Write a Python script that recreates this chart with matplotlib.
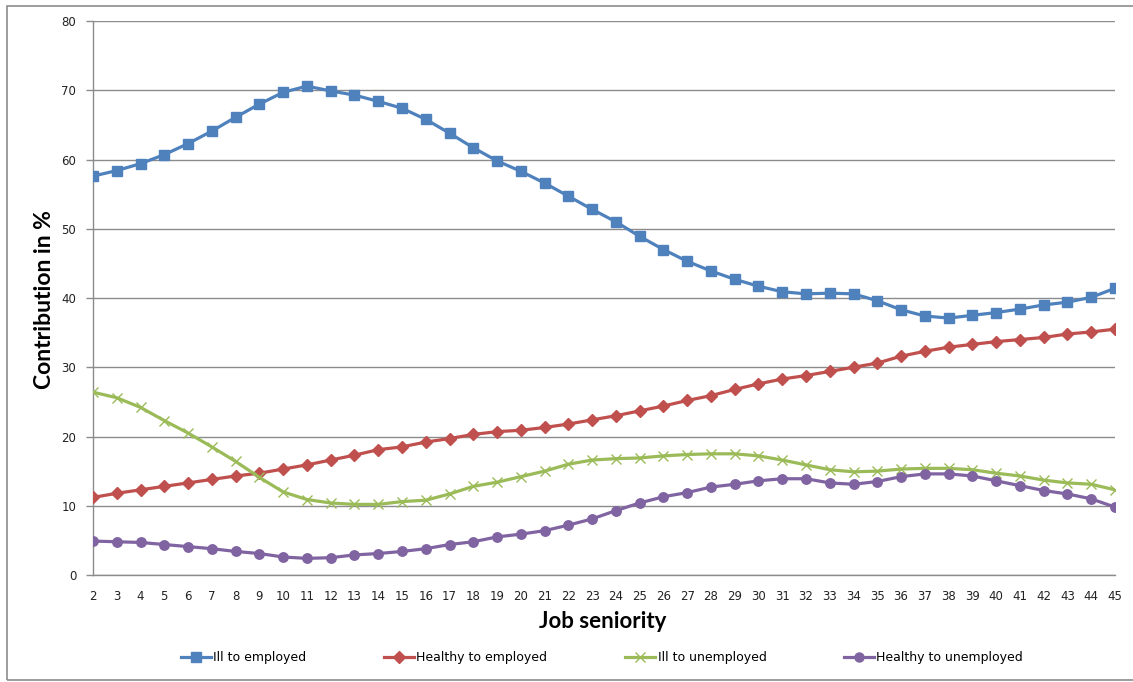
import matplotlib
matplotlib.use("Agg")
import matplotlib.pyplot as plt
from matplotlib.patches import Rectangle

# Job seniority (years)
seniority = list(range(2, 46))

ill_to_employed = [
    57.6, 58.4, 59.4, 60.7, 62.3, 64.1, 66.1, 68.0, 69.7, 70.6,
    69.9, 69.3, 68.4, 67.4, 65.8, 63.8, 61.7, 59.8, 58.3, 56.6,
    54.7, 52.8, 51.0, 48.9, 47.0, 45.3, 43.9, 42.7, 41.7, 40.9,
    40.6, 40.7, 40.6, 39.6, 38.3, 37.4, 37.1, 37.5, 37.9, 38.4,
    39.0, 39.4, 40.1, 41.4,
]
healthy_to_employed = [
    11.2, 11.8, 12.3, 12.8, 13.3, 13.8, 14.3, 14.7, 15.3, 15.9,
    16.6, 17.3, 18.1, 18.5, 19.2, 19.7, 20.3, 20.7, 20.9, 21.3,
    21.8, 22.4, 23.0, 23.7, 24.4, 25.2, 25.9, 26.8, 27.6, 28.3,
    28.8, 29.4, 30.0, 30.6, 31.6, 32.3, 32.9, 33.3, 33.7, 34.0,
    34.3, 34.8, 35.1, 35.5,
]
ill_to_unemployed = [
    26.4, 25.6, 24.2, 22.3, 20.5, 18.5, 16.4, 14.1, 12.0, 10.9,
    10.4, 10.2, 10.2, 10.6, 10.8, 11.7, 12.8, 13.4, 14.2, 15.0,
    16.0, 16.6, 16.8, 16.9, 17.2, 17.4, 17.5, 17.5, 17.2, 16.6,
    15.9, 15.2, 14.9, 15.0, 15.3, 15.4, 15.4, 15.2, 14.7, 14.3,
    13.7, 13.3, 13.1, 12.3,
]
healthy_to_unemployed = [
    4.9, 4.8, 4.7, 4.4, 4.1, 3.8, 3.4, 3.1, 2.6, 2.4,
    2.5, 2.9, 3.1, 3.4, 3.8, 4.4, 4.8, 5.5, 5.9, 6.4,
    7.2, 8.1, 9.3, 10.4, 11.3, 11.9, 12.7, 13.1, 13.6, 13.9,
    13.9, 13.3, 13.1, 13.5, 14.2, 14.6, 14.6, 14.3, 13.6, 12.9,
    12.2, 11.7, 11.0, 9.8,
]

series_labels = ["Ill to employed", "Healthy to employed",
                 "Ill to unemployed", "Healthy to unemployed"]

W, H = 1133, 682
fig = plt.figure(figsize=(W / 100, H / 100), dpi=100)
fig.patch.set_facecolor("white")

# plot area in pixel coordinates
x0, x1, y_top, y_bot = 93, 1115, 21, 575
ax = fig.add_axes([x0 / W, 1 - y_bot / H, (x1 - x0) / W, (y_bot - y_top) / H])

grid_c = "#8c8c8c"
lw = 2.3
ax.plot(seniority, ill_to_employed, color="#4F81BD", lw=lw, marker="s",
        ms=6.5, label=series_labels[0], zorder=4)
ax.plot(seniority, healthy_to_employed, color="#C0504D", lw=lw, marker="D",
        ms=6.5, label=series_labels[1], zorder=4)
ax.plot(seniority, ill_to_unemployed, color="#9BBB59", lw=lw, marker="x",
        ms=7, mew=1.0, label=series_labels[2], zorder=4)
ax.plot(seniority, healthy_to_unemployed, color="#8064A2", lw=lw, marker="o",
        ms=6.8, label=series_labels[3], zorder=4)

ax.set_xlim(2, 45)
ax.set_ylim(0, 80)
ax.set_yticks(range(0, 81, 10))
ax.set_xticks(seniority)
ax.set_xticks(range(2, 46, 4), minor=True)

ax.tick_params(axis="x", which="major", length=0, pad=11,
               labelsize=8.5, labelcolor="#222222")
ax.tick_params(axis="x", which="minor", length=5, color=grid_c, width=1)
ax.tick_params(axis="y", which="major", length=5, color=grid_c, width=1,
               pad=7, labelsize=8.5, labelcolor="#222222")

ax.grid(axis="y", which="major", color=grid_c, lw=1.0)
ax.grid(axis="x", which="minor", color=grid_c, lw=1.0)
ax.grid(axis="x", which="major", visible=False)
ax.set_axisbelow(True)

for s in ("top", "right"):
    ax.spines[s].set_visible(False)
for s in ("left", "bottom"):
    ax.spines[s].set_color(grid_c)
    ax.spines[s].set_linewidth(1.0)

# axis titles
fig.text(603 / W, 1 - 621 / H, "Job seniority", ha="center", va="center",
         fontsize=16, fontweight="bold", family="Lato")
fig.text(45 / W, 1 - 300 / H, "Contribution in %", ha="center", va="center",
         rotation=90, fontsize=16.5, fontweight="bold", family="Lato")

# legend along the bottom
leg = fig.legend(loc="center", bbox_to_anchor=(602 / W, 1 - 658 / H), ncol=4,
                 frameon=False, fontsize=9, handlelength=2.4,
                 handletextpad=0.2, columnspacing=6.2)
for h in leg.legend_handles:
    h.set_markersize(6.5)

# chart frame
fig.add_artist(Rectangle((7 / W, 1 - 680 / H), (1140 - 7) / W, (680 - 6) / H,
                         transform=fig.transFigure, fill=False,
                         edgecolor="#8c8c8c", lw=1.2))

fig.savefig("out.png", dpi=100, facecolor="white")
